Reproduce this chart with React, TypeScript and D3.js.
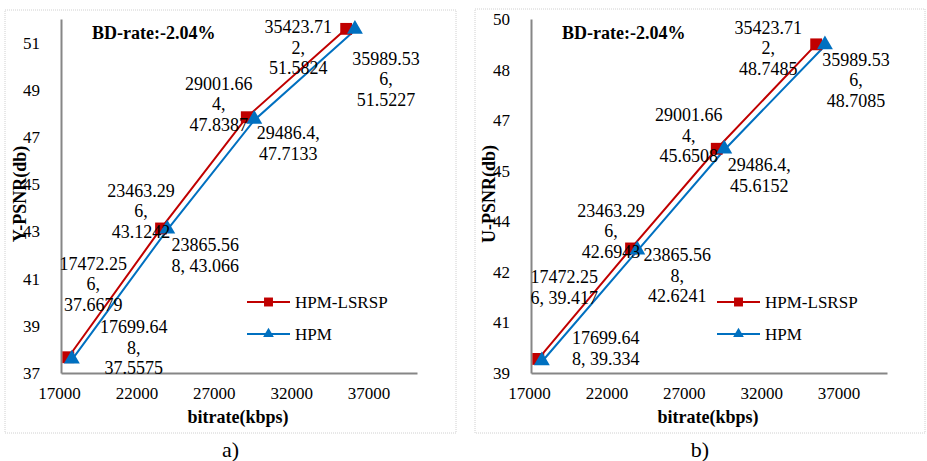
import React, { useEffect, useRef } from 'react';
import * as d3 from 'd3';

// bitrate (kbps) of each rate point
const bitrateLSRSP = [17472.256, 23463.296, 29001.664, 35423.712];
const bitrateHPM = [17699.648, 23865.568, 29486.4, 35989.536];

// PSNR values
const yPsnrLSRSP = [37.6679, 43.1242, 47.8387, 51.5824];
const yPsnrHPM = [37.5575, 43.066, 47.7133, 51.5227];
const uPsnrLSRSP = [39.417, 42.6943, 45.6508, 48.7485];
const uPsnrHPM = [39.334, 42.6241, 45.6152, 48.7085];

// data labels as excel wrapped them
const yLabelsLSRSP = [['17472.25', '6,', '37.6679'], ['23463.29', '6,', '43.1242'], ['29001.66', '4,', '47.8387'], ['35423.71', '2,', '51.5824']];
const yLabelsHPM = [['17699.64', '8,', '37.5575'], ['23865.56', '8, 43.066'], ['29486.4,', '47.7133'], ['35989.53', '6,', '51.5227']];
const uLabelsLSRSP = [['17472.25', '6, 39.417'], ['23463.29', '6,', '42.6943'], ['29001.66', '4,', '45.6508'], ['35423.71', '2,', '48.7485']];
const uLabelsHPM = [['17699.64', '8, 39.334'], ['23865.56', '8,', '42.6241'], ['29486.4,', '45.6152'], ['35989.53', '6,', '48.7085']];

// ticks
const xTicks = [17000, 22000, 27000, 32000, 37000];
const yTicksLeft = [37, 39, 41, 43, 45, 47, 49, 51];
const yTickLabelsLeft = ['37', '39', '41', '43', '45', '47', '49', '51'];
const yTicksRight = [39, 40.5, 42, 43.5, 45, 46.5, 48, 49.5];
const yTickLabelsRight = ['39', '41', '42', '44', '45', '47', '48', '50'];

const seriesNames = ['HPM-LSRSP', 'HPM'];
const bdRate = 'BD-rate:-2.04%';

const RED = '#C00000';
const BLUE = '#0070C0';
const FONT = '"Liberation Serif", "Times New Roman", serif';

// label offsets (px) from the marker, first line centre
const offLSRSPLeft = [[25, -94], [-20, -38], [-28, -34], [-48, -2]];
const offHPMLeft = [[62, -33], [38, 15], [34, 13], [31, 28]];
const offLSRSPRight = [[26, -82], [-20, -38], [-28, -34], [-48, -17]];
const offHPMRight = [[64, -24], [40, 4], [35, 15], [31, 14]];

type Panel = {
  frame: [number, number, number, number];
  left: number;
  yDomain: [number, number];
  yTicks: number[];
  yTickLabels: string[];
  yTitle: string;
  yTitleX: number;
  red: number[];
  blue: number[];
  redLabels: string[][];
  blueLabels: string[][];
  redOff: number[][];
  blueOff: number[][];
  bdX: number;
  caption: string;
};

const panels: Panel[] = [
  {
    frame: [5, 10, 456, 433], left: 61, yDomain: [37, 52],
    yTicks: yTicksLeft, yTickLabels: yTickLabelsLeft, yTitle: 'Y-PSNR(db)', yTitleX: 20,
    red: yPsnrLSRSP, blue: yPsnrHPM, redLabels: yLabelsLSRSP, blueLabels: yLabelsHPM,
    redOff: offLSRSPLeft, blueOff: offHPMLeft, bdX: 92, caption: 'a)',
  },
  {
    frame: [475, 9, 925, 433], left: 531, yDomain: [39, 49.5],
    yTicks: yTicksRight, yTickLabels: yTickLabelsRight, yTitle: 'U-PSNR(db)', yTitleX: 489,
    red: uPsnrLSRSP, blue: uPsnrHPM, redLabels: uLabelsLSRSP, blueLabels: uLabelsHPM,
    redOff: offLSRSPRight, blueOff: offHPMRight, bdX: 562, caption: 'b)',
  },
];

export default function App() {
  const ref = useRef<SVGSVGElement>(null);

  useEffect(() => {
    const svg = d3.select(ref.current);
    svg.selectAll('*').remove();
    svg.append('rect').attr('width', 927).attr('height', 461).attr('fill', '#fff');

    panels.forEach((p) => {
      const top = 19, bottom = 373, plotW = 356;
      const g = svg.append('g');
      const [fx0, fy0, fx1, fy1] = p.frame;
      g.append('rect')
        .attr('x', fx0).attr('y', fy0)
        .attr('width', fx1 - fx0).attr('height', fy1 - fy0)
        .attr('fill', '#fff')
        .attr('stroke', '#d0d0d0')
        .attr('stroke-dasharray', '1,1');

      const x = d3.scaleLinear().domain([17000, 40000]).range([p.left, p.left + plotW]);
      const y = d3.scaleLinear().domain(p.yDomain).range([bottom, top]);

      // axes
      const xAxis = d3.axisBottom(x).tickValues(xTicks).tickSize(0).tickPadding(14).tickFormat(d3.format('d'));
      const gx = g.append('g').attr('transform', `translate(0,${bottom})`).call(xAxis);
      gx.select('.domain').attr('stroke', '#868686').attr('stroke-width', 2);
      gx.selectAll('text').attr('font-family', FONT).attr('font-size', 17).attr('fill', '#000').attr('dx', -2);

      const yAxis = d3.axisLeft(y).tickValues(p.yTicks).tickSize(0).tickPadding(21)
        .tickFormat((_d, i) => p.yTickLabels[i]);
      const gy = g.append('g').attr('transform', `translate(${p.left},0)`).call(yAxis);
      gy.select('.domain').attr('stroke', '#868686').attr('stroke-width', 2);
      gy.selectAll('text').attr('font-family', FONT).attr('font-size', 17).attr('fill', '#000');

      // titles
      g.append('text')
        .attr('transform', `translate(${p.yTitleX},194) rotate(-90)`)
        .attr('text-anchor', 'middle').attr('dy', '0.35em')
        .attr('font-family', FONT).attr('font-size', 18).attr('font-weight', 'bold')
        .text(p.yTitle);
      g.append('text')
        .attr('x', p.left + 177).attr('y', 423)
        .attr('text-anchor', 'middle')
        .attr('font-family', FONT).attr('font-size', 18).attr('font-weight', 'bold')
        .text('bitrate(kbps)');
      g.append('text')
        .attr('x', p.bdX).attr('y', 39)
        .attr('font-family', FONT).attr('font-size', 18).attr('font-weight', 'bold')
        .text(bdRate);
      g.append('text')
        .attr('x', (fx0 + fx1) / 2).attr('y', 457)
        .attr('text-anchor', 'middle')
        .attr('font-family', FONT).attr('font-size', 22)
        .text(p.caption);

      const line = d3.line<[number, number]>().x((d) => x(d[0])).y((d) => y(d[1]));
      const redPts = bitrateLSRSP.map((b, i) => [b, p.red[i]] as [number, number]);
      const bluePts = bitrateHPM.map((b, i) => [b, p.blue[i]] as [number, number]);

      g.append('path').attr('d', line(redPts)).attr('fill', 'none').attr('stroke', RED).attr('stroke-width', 2);
      g.append('path').attr('d', line(bluePts)).attr('fill', 'none').attr('stroke', BLUE).attr('stroke-width', 2);

      const sq = d3.symbol().type(d3.symbolSquare).size(140);
      const tri = d3.symbol().type(d3.symbolTriangle).size(110);
      g.selectAll('.sq').data(redPts).enter().append('path')
        .attr('d', sq).attr('fill', RED)
        .attr('transform', (d) => `translate(${x(d[0])},${y(d[1])})`);
      g.selectAll('.tri').data(bluePts).enter().append('path')
        .attr('d', tri).attr('fill', BLUE)
        .attr('transform', (d) => `translate(${x(d[0])},${y(d[1]) - 1})`);

      // data labels
      const addLabels = (pts: [number, number][], labels: string[][], offs: number[][]) => {
        pts.forEach((d, i) => {
          const t = g.append('text')
            .attr('font-family', FONT).attr('font-size', 18).attr('fill', '#000')
            .attr('text-anchor', 'middle');
          labels[i].forEach((s, j) => {
            t.append('tspan')
              .attr('x', x(d[0]) + offs[i][0])
              .attr('y', y(d[1]) + offs[i][1] + j * 20.5)
              .attr('dy', '0.35em')
              .text(s);
          });
        });
      };
      addLabels(redPts, p.redLabels, p.redOff);
      addLabels(bluePts, p.blueLabels, p.blueOff);

      // legend
      const lx = p.left + 186;
      const leg = [[RED, 'sq', 302], [BLUE, 'tri', 334]] as [string, string, number][];
      leg.forEach(([c, m, ly], i) => {
        g.append('line').attr('x1', lx).attr('x2', lx + 43).attr('y1', ly).attr('y2', ly)
          .attr('stroke', c).attr('stroke-width', 2);
        g.append('path')
          .attr('d', d3.symbol().type(m === 'sq' ? d3.symbolSquare : d3.symbolTriangle).size(m === 'sq' ? 80 : 50))
          .attr('fill', c)
          .attr('transform', `translate(${lx + 21.5},${ly})`);
        g.append('text')
          .attr('x', lx + 48).attr('y', ly).attr('dy', '0.35em')
          .attr('font-family', FONT).attr('font-size', 17)
          .text(seriesNames[i]);
      });
    });
  }, []);

  return (
    <div style={{ position: 'absolute', left: 0, top: 0 }}>
      <svg ref={ref} width={927} height={461} style={{ display: 'block' }} />
    </div>
  );
}
